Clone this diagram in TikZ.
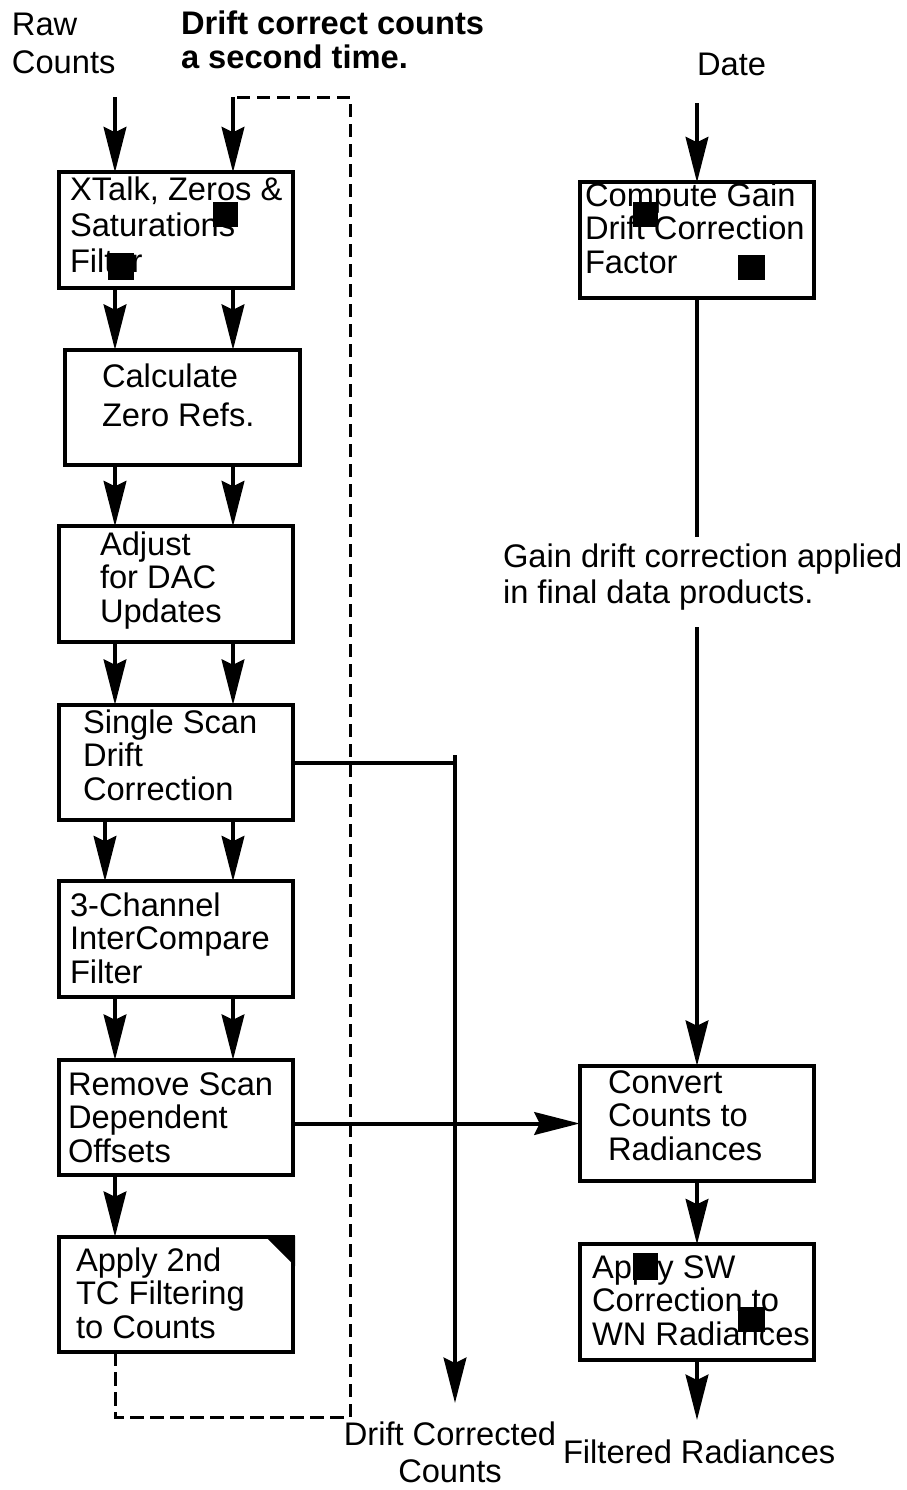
\documentclass[tikz,border=0pt]{standalone}
\usepackage{fontspec}
\setmainfont{Liberation Sans}
\usetikzlibrary{arrows.meta}
\begin{document}
\begin{tikzpicture}[x=0.75pt,y=-0.75pt,
  every node/.style={inner sep=0pt, outer sep=0pt},
  txt/.style={font=\fontsize{24.5}{25}\selectfont, align=left, anchor=base west},
  box/.style={draw, line width=3pt, minimum width=176pt, minimum height=86.5pt},
  flow/.style={line width=3pt, -{Stealth[length=34pt,width=17pt,inset=4pt]}},
  loopline/.style={line width=2.25pt, dash pattern=on 10pt off 5pt},
  wire/.style={line width=3pt}]
\useasboundingbox (0,0) rectangle (907,1490);

% column positions of the two count paths
\coordinate (c1) at (115,0);
\coordinate (c1b) at (105,0);
\coordinate (c2) at (233,0);

% processing boxes, left chain
\node[box] (b1) at (176,230) {};
\node[box] (b2) at (182.5,407.5) {};
\node[box] (b3) at (176,584) {};
\node[box] (b4) at (176,762.5) {};
\node[box] (b5) at (176,939) {};
\node[box] (b6) at (176,1117.5) {};
\node[box] (b7) at (176,1294.5) {};
% right chain
\node[box] (gain) at (697,240) {};
\node[box] (conv) at (697,1123.5) {};
\node[box] (sw) at (697,1302) {};

% dog-ear on the last filter box
\fill (265,1236) -- (295,1236) -- (295,1266) -- cycle;

% box texts (placed by the baseline of their last line)
\node[txt, font=\fontsize{24.5}{27}\selectfont] (t1) at (70,272) {XTalk, Zeros \&\\Saturations\\Filter};
\node[txt, font=\fontsize{24.5}{29}\selectfont] (t2) at (102,426) {Calculate\\Zero Refs.};
\node[txt] (t3) at (100,622) {Adjust\\for DAC\\Updates};
\node[txt] (t4) at (83,800) {Single Scan\\Drift\\Correction};
\node[txt] (t5) at (70,983) {3-Channel\\InterCompare\\Filter};
\node[txt] (t6) at (68,1162) {Remove Scan\\Dependent\\Offsets};
\node[txt] (t7) at (76,1338) {Apply 2nd\\TC Filtering\\to Counts};
\node[txt] (tg) at (585,273) {Compute Gain\\Drift Correction\\Factor};
\node[txt] (tc) at (608,1160) {Convert\\Counts to\\Radiances};
\node[txt] (ts) at (592,1345) {Apply SW\\Correction to\\WN Radiances};

% free labels
\node[txt, font=\fontsize{24.5}{28.5}\selectfont] (raw) at (12,73) {Raw\\Counts};
\node[txt, font=\fontsize{24.5}{25}\selectfont\bfseries] (second) at (181,68) {Drift correct counts\\a second time.};
\node[txt] (date) at (697,75) {Date};
\node[txt, font=\fontsize{24.5}{27}\selectfont] (note) at (503,603) {Gain drift correction applied\\in final data products.};
\node[txt, align=center, anchor=base, font=\fontsize{24.5}{27.75}\selectfont] (dcc) at (450,1482) {Drift Corrected\\Counts};
\node[txt] (filt) at (563,1463) {Filtered Radiances};

% connector end points
\coordinate (rawin) at (115,97);
\coordinate (loopin) at (233,97);
\coordinate (lA) at (350,97);
\coordinate (lB) at (350,1417);
\coordinate (lC) at (115,1417);
\coordinate (datein) at (697,103);
\coordinate (gapA) at (697,537);
\coordinate (gapB) at (697,627);
\coordinate (jn) at (455,755);
\coordinate (dccin) at (455,1403);
\coordinate (filtin) at (697,1420);

% first pass through the filters
\draw[flow] (rawin) -- (b1.north -| c1);
\draw[flow] (b1.south -| c1) -- (b2.north -| c1);
\draw[flow] (b2.south -| c1) -- (b3.north -| c1);
\draw[flow] (b3.south -| c1) -- (b4.north -| c1);
\draw[flow] (b4.south -| c1b) -- (b5.north -| c1b);
\draw[flow] (b5.south -| c1) -- (b6.north -| c1);
\draw[flow] (b6.south -| c1) -- (b7.north -| c1);

% second pass
\draw[loopline] (b7.south -| c1) -- (lC) -- (lB) -- (lA) -- (loopin);
\draw[flow] (loopin) -- (b1.north -| c2);
\draw[flow] (b1.south -| c2) -- (b2.north -| c2);
\draw[flow] (b2.south -| c2) -- (b3.north -| c2);
\draw[flow] (b3.south -| c2) -- (b4.north -| c2);
\draw[flow] (b4.south -| c2) -- (b5.north -| c2);
\draw[flow] (b5.south -| c2) -- (b6.north -| c2);

% drift corrected counts output
\draw[wire] (b4.east) -- (b4.east -| jn);
\draw[flow] (jn) -- (dccin);

% radiance chain
\draw[flow] (b6.east |- conv.west) -- (conv.west);
\draw[flow] (datein) -- (gain.north);
\draw[wire] (gain.south) -- (gapA);
\draw[flow] (gapB) -- (conv.north);
\draw[flow] (conv.south) -- (sw.north);
\draw[flow] (sw.south) -- (filtin);

% selection marks
\fill (213,202) rectangle (238,227);
\fill (108,253) rectangle (134,280);
\fill (633,202) rectangle (658,227);
\fill (738,255) rectangle (765,280);
\fill (633,1253) rectangle (658,1280);
\fill (738,1307) rectangle (765,1332);
\end{tikzpicture}
\end{document}
